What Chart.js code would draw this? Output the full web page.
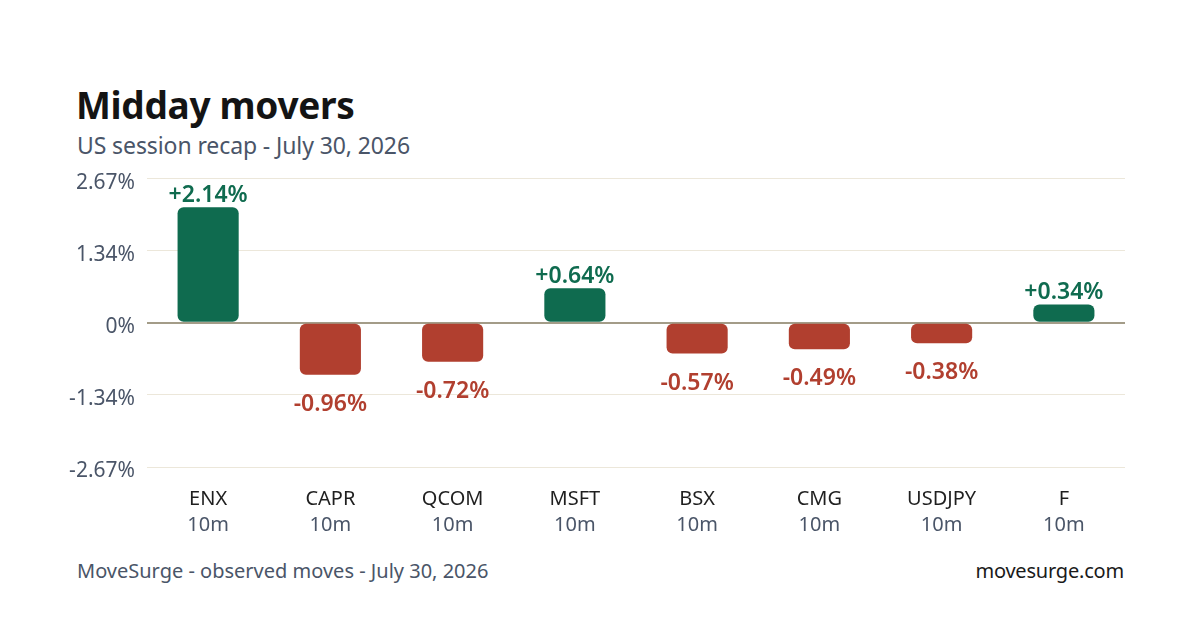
<!DOCTYPE html>
<html>
<head>
<meta charset="utf-8">
<script src="https://cdn.jsdelivr.net/npm/chart.js@4/dist/chart.umd.min.js"></script>
<style>
  html, body { margin: 0; padding: 0; background: #ffffff; }
  body { width: 1200px; height: 630px; position: relative; overflow: hidden; font-family: "Noto Sans", "Open Sans", sans-serif; }
  #title { position: absolute; left: 76px; top: 79px; font-size: 37px; font-weight: 700; color: #141414; letter-spacing: -0.3px; }
  #subtitle { position: absolute; left: 77px; top: 129px; font-size: 23px; color: #4a5568; letter-spacing: -0.1px; }
  #footL { position: absolute; left: 77px; top: 557px; font-size: 20px; color: #4a5568; }
  #footR { position: absolute; right: 76px; top: 557px; font-size: 20px; color: #1a1a1a; letter-spacing: -0.2px; }
  #wrap { position: absolute; left: 40px; top: 154px; width: 1085px; height: 391px; }
</style>
</head>
<body>
<div id="title">Midday movers</div>
<div id="subtitle">US session recap - July 30, 2026</div>
<div id="wrap"><canvas id="c"></canvas></div>
<div id="footL">MoveSurge - observed moves - July 30, 2026</div>
<div id="footR">movesurge.com</div>
<script>
const categories = ["ENX", "CAPR", "QCOM", "MSFT", "BSX", "CMG", "USDJPY", "F"];
const windows = ["10m", "10m", "10m", "10m", "10m", "10m", "10m", "10m"];
const moves = [2.14, -0.96, -0.72, 0.64, -0.57, -0.49, -0.38, 0.34];
const yTickValues = [-2.67, -1.335, 0, 1.335, 2.67];
const yTickLabels = ["-2.67%", "-1.34%", "0%", "1.34%", "2.67%"];

const GREEN = "#0f6b4f";
const RED = "#b13f2f";
const FONT = "'Noto Sans', sans-serif";

const valueLabels = {
  id: "valueLabels",
  afterDatasetsDraw(chart) {
    const ctx = chart.ctx;
    const meta = chart.getDatasetMeta(0);
    ctx.save();
    ctx.font = "600 23px " + FONT;
    ctx.textAlign = "center";
    meta.data.forEach((bar, i) => {
      const v = moves[i];
      const txt = (v > 0 ? "+" : "") + v.toFixed(2) + "%";
      if (v >= 0) {
        ctx.fillStyle = GREEN;
        ctx.textBaseline = "bottom";
        ctx.fillText(txt, bar.x, bar.y);
      } else {
        ctx.fillStyle = RED;
        ctx.textBaseline = "top";
        ctx.fillText(txt, bar.x, bar.y + 18);
      }
    });
    ctx.restore();
  }
};

new Chart(document.getElementById("c"), {
  type: "bar",
  data: {
    labels: categories,
    datasets: [{
      data: moves,
      backgroundColor: moves.map(v => v >= 0 ? GREEN : RED),
      borderRadius: 6,
      borderSkipped: false,
      barPercentage: 0.5,
      categoryPercentage: 1.0,
      xAxisID: "x",
      yAxisID: "y"
    }]
  },
  options: {
    responsive: true,
    maintainAspectRatio: false,
    animation: false,
    layout: { padding: { top: 0, right: 0, bottom: 0, left: 0 } },
    plugins: { legend: { display: false }, tooltip: { enabled: false } },
    scales: {
      x: {
        type: "category",
        position: "bottom",
        afterFit(scale) { scale.height = 43; },
        grid: { display: false, drawTicks: false },
        border: { display: false },
        ticks: { color: "#1f1f1f", font: { size: 20, family: FONT }, padding: 20 }
      },
      x2: {
        type: "category",
        position: "bottom",
        labels: windows,
        offset: true,
        afterFit(scale) { scale.height = 35; },
        grid: { display: false, drawTicks: false },
        border: { display: false },
        ticks: { color: "#4a5568", font: { size: 20, family: FONT }, padding: 3 }
      },
      y: {
        min: -2.67,
        max: 2.67,
        afterBuildTicks(scale) { scale.ticks = yTickValues.map(v => ({ value: v })); },
        afterFit(scale) { scale.width = 107; },
        grid: {
          drawTicks: false,
          color: (c) => c.tick && c.tick.value === 0 ? "#a39c88" : "#ece7da",
          lineWidth: (c) => c.tick && c.tick.value === 0 ? 2 : 1
        },
        border: { display: false },
        ticks: {
          color: "#4a5568",
          font: { size: 21, family: FONT },
          padding: 12,
          labelOffset: 4,
          callback: (v, i) => yTickLabels[i]
        }
      }
    }
  },
  plugins: [valueLabels]
});
</script>
</body>
</html>
